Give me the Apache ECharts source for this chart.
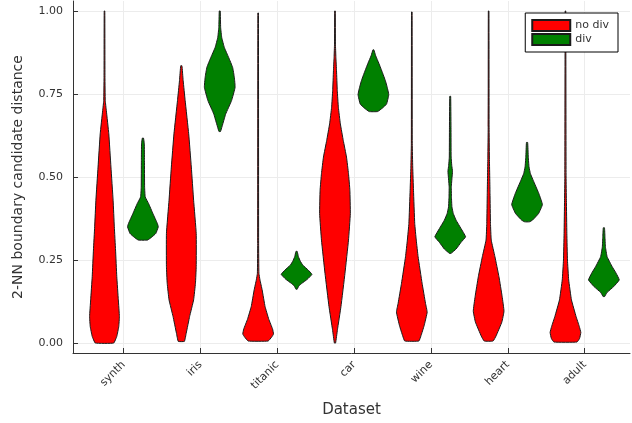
<!DOCTYPE html>
<html lang="en">
  <head>
    <meta charset="utf-8" />
    <title>2-NN boundary candidate distance</title>
    <script src="https://cdn.jsdelivr.net/npm/echarts@6/dist/echarts.min.js"></script>
    <style>
      html, body { margin: 0; padding: 0; background: #fff; }
      #chart { width: 632px; height: 423px; }
    </style>
  </head>
  <body>
    <div id="chart"></div>
    <script type="text/javascript">
      // datasets on the x axis
      var datasets = ["synth", "iris", "titanic", "car", "wine", "heart", "adult"];
      var yTicks = [0, 0.25, 0.5, 0.75, 1];

      // violin outlines: [distance, relative density]
      var noDivDensity = [
        [[0.0, 0.6], [0.02, 0.8], [0.05, 0.93], [0.08, 0.97], [0.13, 0.9], [0.2, 0.8], [0.28, 0.72], [0.35, 0.64], [0.43, 0.56], [0.53, 0.42], [0.63, 0.28], [0.7, 0.12], [0.73, 0.05], [0.8, 0.03], [1.0, 0.02]],
        [[0.005, 0.2], [0.03, 0.32], [0.08, 0.54], [0.13, 0.8], [0.18, 0.92], [0.23, 0.97], [0.33, 0.97], [0.43, 0.8], [0.53, 0.65], [0.63, 0.48], [0.73, 0.25], [0.79, 0.12], [0.835, 0.04]],
        [[0.006, 0.65], [0.018, 0.88], [0.027, 1.0], [0.042, 0.94], [0.072, 0.69], [0.11, 0.45], [0.16, 0.26], [0.19, 0.12], [0.21, 0.05], [0.3, 0.03], [0.994, 0.02]],
        [[0.0, 0.04], [0.04, 0.16], [0.11, 0.39], [0.21, 0.65], [0.31, 0.88], [0.39, 1.0], [0.46, 0.97], [0.51, 0.88], [0.56, 0.75], [0.61, 0.54], [0.66, 0.35], [0.71, 0.22], [0.76, 0.15], [0.82, 0.1], [0.86, 0.06], [0.9, 0.03], [1.0, 0.02]],
        [[0.006, 0.46], [0.021, 0.59], [0.052, 0.8], [0.093, 1.0], [0.12, 0.89], [0.18, 0.67], [0.26, 0.41], [0.31, 0.29], [0.36, 0.19], [0.46, 0.11], [0.53, 0.06], [0.6, 0.03], [0.997, 0.02]],
        [[0.006, 0.29], [0.021, 0.48], [0.063, 0.86], [0.096, 1.0], [0.14, 0.88], [0.2, 0.67], [0.26, 0.41], [0.31, 0.17], [0.36, 0.12], [0.45, 0.09], [0.56, 0.05], [0.65, 0.03], [1.0, 0.02]],
        [[0.003, 0.75], [0.014, 0.92], [0.032, 1.0], [0.05, 0.9], [0.08, 0.69], [0.13, 0.39], [0.19, 0.21], [0.25, 0.13], [0.33, 0.09], [0.43, 0.06], [0.5, 0.04], [1.0, 0.02]]
      ];
      var divDensity = [
        [[0.31, 0.3], [0.318, 0.55], [0.33, 0.84], [0.35, 1.0], [0.36, 0.94], [0.39, 0.65], [0.42, 0.37], [0.44, 0.15], [0.47, 0.11], [0.55, 0.1], [0.6, 0.09], [0.617, 0.04]],
        [[0.637, 0.05], [0.66, 0.2], [0.69, 0.39], [0.73, 0.77], [0.77, 1.0], [0.8, 0.95], [0.83, 0.84], [0.86, 0.58], [0.89, 0.3], [0.92, 0.13], [0.95, 0.06], [1.0, 0.03]],
        [[0.162, 0.04], [0.172, 0.15], [0.18, 0.35], [0.192, 0.7], [0.207, 1.0], [0.22, 0.75], [0.235, 0.4], [0.246, 0.25], [0.26, 0.12], [0.276, 0.04]],
        [[0.697, 0.27], [0.708, 0.6], [0.72, 0.86], [0.748, 1.0], [0.77, 0.9], [0.79, 0.78], [0.813, 0.6], [0.843, 0.35], [0.865, 0.15], [0.883, 0.03]],
        [[0.27, 0.05], [0.283, 0.38], [0.303, 0.7], [0.32, 1.0], [0.345, 0.7], [0.37, 0.38], [0.39, 0.2], [0.41, 0.11], [0.44, 0.08], [0.47, 0.07], [0.5, 0.12], [0.517, 0.15], [0.535, 0.1], [0.56, 0.06], [0.65, 0.05], [0.743, 0.03]],
        [[0.365, 0.15], [0.37, 0.35], [0.39, 0.75], [0.417, 1.0], [0.45, 0.77], [0.49, 0.4], [0.51, 0.22], [0.53, 0.13], [0.56, 0.08], [0.604, 0.04]],
        [[0.14, 0.05], [0.152, 0.2], [0.17, 0.64], [0.19, 1.0], [0.21, 0.8], [0.23, 0.54], [0.26, 0.21], [0.29, 0.1], [0.32, 0.07], [0.347, 0.04]]
      ];

      var halfWidth = 0.2; // widest half-width of a violin, x units
      var groupOffset = 0.25;

      function violinRenderer(profiles) {
        return function (params, api) {
          var xc = api.value(0);
          var prof = profiles[params.dataIndex];
          var right = [];
          var left = [];
          for (var k = 0; k < prof.length; k++) {
            var y = prof[k][0];
            var w = prof[k][1] * halfWidth;
            right.push(api.coord([xc + w, y]));
            left.unshift(api.coord([xc - w, y]));
          }
          return {
            type: "polygon",
            shape: { points: right.concat(left), smooth: 0.1 },
            style: {
              fill: api.visual("color"),
              stroke: "#1a1a1a",
              lineWidth: 1,
            },
          };
        };
      }

      var myChart = echarts.init(document.getElementById("chart"));
      myChart.setOption({
        animation: false,
        textStyle: { fontFamily: "DejaVu Sans" },
        grid: { left: 73, right: 2, top: 1, bottom: 69 },
        legend: {
          data: ["no div", "div"],
          orient: "vertical",
          right: 14,
          top: 13,
          padding: [6, 9, 6, 6],
          itemGap: 1,
          itemWidth: 38,
          itemHeight: 11,
          icon: "rect",
          backgroundColor: "#fff",
          borderColor: "#000",
          borderWidth: 1,
          borderRadius: 0,
          textStyle: { fontSize: 11, color: "#333" },
        },
        xAxis: {
          type: "value",
          min: -0.66,
          max: 6.59,
          name: "Dataset",
          nameLocation: "middle",
          nameGap: 50,
          nameTextStyle: { fontSize: 15, color: "#333" },
          axisLine: { show: true, onZero: false, lineStyle: { color: "#333", width: 1 } },
          axisTick: {
            show: true,
            inside: true,
            length: 5,
            customValues: [0, 1, 2, 3, 4, 5, 6],
            lineStyle: { color: "#333" },
          },
          axisLabel: {
            customValues: [0, 1, 2, 3, 4, 5, 6],
            rotate: 45,
            fontSize: 11,
            color: "#333",
            margin: 10,
            formatter: function (v) {
              return datasets[Math.round(v)];
            },
          },
          splitLine: { show: true, lineStyle: { color: "#ececec", width: 1 } },
        },
        yAxis: {
          type: "value",
          min: -0.03,
          max: 1.03,
          name: "2-NN boundary candidate distance",
          nameLocation: "middle",
          nameGap: 48,
          nameTextStyle: { fontSize: 14, color: "#333" },
          axisLine: { show: true, onZero: false, lineStyle: { color: "#333", width: 1 } },
          axisTick: {
            show: true,
            inside: true,
            length: 5,
            customValues: yTicks,
            lineStyle: { color: "#333" },
          },
          axisLabel: {
            customValues: yTicks,
            fontSize: 11,
            color: "#333",
            margin: 10,
            formatter: function (v) {
              return v.toFixed(2);
            },
          },
          splitLine: { show: true, lineStyle: { color: "#ececec", width: 1 } },
        },
        series: [
          {
            name: "no div",
            type: "custom",
            itemStyle: { color: "#ff0000", borderColor: "#1a1a1a", borderWidth: 1 },
            renderItem: violinRenderer(noDivDensity),
            encode: { x: 0, y: 1 },
            data: datasets.map(function (d, i) {
              return [i - groupOffset, 0.5];
            }),
          },
          {
            name: "div",
            type: "custom",
            itemStyle: { color: "#008000", borderColor: "#1a1a1a", borderWidth: 1 },
            renderItem: violinRenderer(divDensity),
            encode: { x: 0, y: 1 },
            data: datasets.map(function (d, i) {
              return [i + groupOffset, 0.5];
            }),
          },
        ],
      });
    </script>
  </body>
</html>
